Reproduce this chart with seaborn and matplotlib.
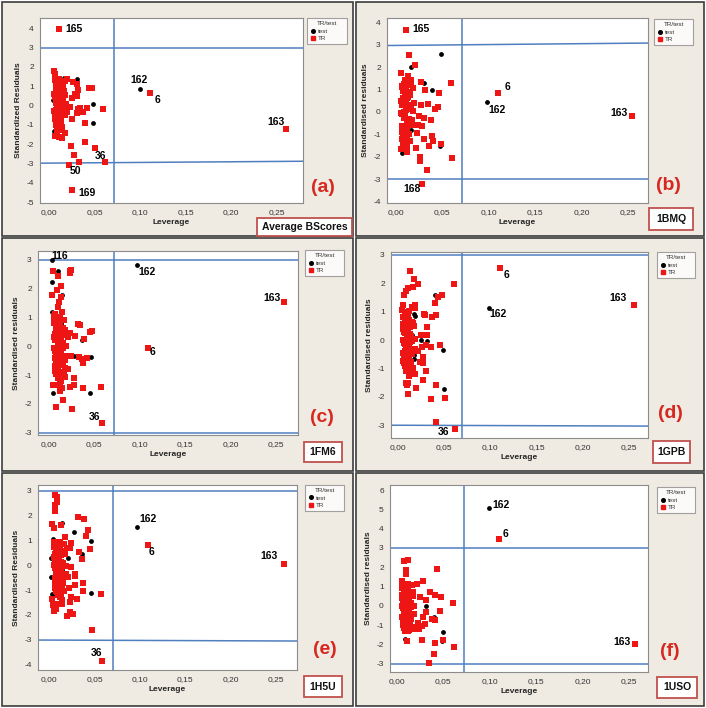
import matplotlib
matplotlib.use("Agg")
import matplotlib.pyplot as plt
import numpy as np
import pandas as pd
import seaborn as sns
from matplotlib.patches import Rectangle
from matplotlib.lines import Line2D

# ---------------- DATA ----------------
x_ticks = [0.00, 0.05, 0.10, 0.15, 0.20, 0.25]
x_tick_labels = ["0,00", "0,05", "0,10", "0,15", "0,20", "0,25"]

# leverages of the dense low-leverage group (same compounds in every model)
cluster_lev = [0.0052, 0.0061, 0.0068, 0.0075, 0.0083, 0.0090, 0.0097, 0.0104, 0.0112, 0.0120,
               0.0128, 0.0135, 0.0143, 0.0152, 0.0160, 0.0058, 0.0066, 0.0072, 0.0080, 0.0087,
               0.0094, 0.0101, 0.0108, 0.0116, 0.0124, 0.0131, 0.0139, 0.0148, 0.0171, 0.0185,
               0.0055, 0.0063, 0.0070, 0.0078, 0.0085, 0.0092, 0.0099, 0.0106, 0.0114, 0.0122,
               0.0133, 0.0145, 0.0157, 0.0168, 0.0190, 0.0060, 0.0074, 0.0088, 0.0102, 0.0118,
               0.0126, 0.0137, 0.0150, 0.0165, 0.0178, 0.0065, 0.0082, 0.0096, 0.0110, 0.0141,
               0.0057, 0.0069, 0.0077, 0.0086, 0.0093, 0.0100, 0.0107, 0.0115, 0.0123, 0.0130,
               0.0062, 0.0071, 0.0079, 0.0089, 0.0098, 0.0105, 0.0113, 0.0121, 0.0134, 0.0154]

# (a) Average BScores
a_cl_res = [1.78, 0.42, -0.55, 1.12, -1.30, 0.05, 0.88, -0.20, 1.40, -0.95,
            0.60, -1.10, 0.25, 1.00, -0.40, 1.55, -0.70, 0.15, -1.45, 0.95,
            -0.10, 0.70, -1.62, 0.35, 1.20, -0.85, 0.50, -0.25, 1.25, 0.10,
            -0.30, 1.62, -1.00, 0.80, -0.60, 0.30, 1.35, -1.25, 0.00, 0.65,
            -0.45, 1.05, -0.15, 0.55, -0.35, -1.55, 0.90, -0.80, 0.20, -0.05,
            1.15, -1.70, 0.40, 0.75, -0.50, 1.48, -0.90, 0.12, -1.20, 0.85,
            0.62, -0.32, 1.08, -0.78, 0.28, -1.15, 0.82, -0.08, 0.48, -0.62,
            1.30, -0.22, 0.18, -1.38, 0.70, -0.48, 1.02, 0.38, -0.98, 0.58]
a_tr_lev = [0.024, 0.027, 0.033, 0.0396, 0.0499, 0.059, 0.032, 0.031, 0.034, 0.042,
            0.037, 0.039, 0.025, 0.0227, 0.030, 0.0286, 0.032, 0.0257, 0.019, 0.031,
            0.044, 0.047, 0.0176, 0.025]
a_tr_res = [-2.07, -2.57, -2.93, -1.91, -2.22, -0.19, -0.16, -0.40, -0.14, -0.14,
            -0.31, -0.91, -0.67, -0.09, 0.47, 0.60, 0.81, 1.24, 1.40, 1.10,
            0.93, 0.93, -1.40, 0.40]
a_test_lev = [0.0158, 0.030, 0.0484, 0.0477, 0.005, 0.0048, 0.016, 0.0117, 0.0045, 0.0135]
a_test_res = [1.43, 1.36, 0.07, -0.88, -1.34, -0.74, 0.52, -0.88, 0.30, -0.35]
a_ids = ["165", "162", "6", "163", "36", "50", "169"]
a_id_set = ["TR", "test", "TR", "TR", "TR", "TR", "TR"]
a_id_lev = [0.0103, 0.0993, 0.111, 0.260, 0.061, 0.0216, 0.0246]
a_id_res = [3.95, 0.86, 0.67, -1.22, -2.93, -3.10, -4.36]

# (b) 1BMQ
b_cl_res = [1.75, -0.62, 0.33, -1.12, 1.25, 0.58, -0.25, 1.02, -0.85, 0.12,
            1.40, -0.45, 0.80, -1.30, 0.22, -0.05, 1.15, -0.70, 0.45, -1.50,
            0.95, -0.15, 0.65, -1.05, 1.60, 0.30, -0.55, 0.85, -0.35, 0.05,
            -1.65, 1.10, -0.95, 0.50, -0.20, 1.30, 0.70, -0.80, 0.18, -1.40,
            0.90, -0.30, 1.20, -0.60, 0.40, -1.20, 0.62, 0.00, 1.45, -0.75,
            0.28, -1.00, 0.75, -0.40, 1.05, -0.10, 0.55, -1.35, 0.35, 1.25,
            0.48, -0.88, 1.08, -0.28, 0.78, -1.18, 0.08, 0.62, -0.52, 1.38,
            -0.08, 0.92, -1.45, 0.38, -0.68, 1.18, 0.22, -0.98, 0.68, -0.35]
b_tr_lev = [0.0143, 0.021, 0.016, 0.027, 0.031, 0.0466, 0.059, 0.0265, 0.034, 0.0448,
            0.042, 0.0244, 0.030, 0.038, 0.0236, 0.028, 0.0226, 0.030, 0.039, 0.040,
            0.049, 0.0358, 0.022, 0.0254, 0.0254, 0.0333, 0.060, 0.012, 0.0118]
b_tr_res = [2.54, 2.09, 1.44, 1.36, 0.96, 0.84, 1.30, 0.30, 0.36, 0.21,
            0.12, -0.17, -0.28, -0.35, -0.58, -0.62, -0.92, -1.20, -1.07, -1.32,
            -1.42, -1.51, -1.60, -2.02, -2.21, -2.59, -2.08, -1.54, -1.77]
b_test_lev = [0.0487, 0.0158, 0.0304, 0.0387, 0.0476, 0.0064, 0.0165, 0.012, 0.0057, 0.0118]
b_test_res = [2.61, 1.99, 1.29, 0.97, -1.51, -1.84, -0.80, 0.87, -0.80, -1.36]
b_ids = ["165", "6", "163", "168", "162"]
b_id_set = ["TR", "TR", "TR", "TR", "test"]
b_id_lev = [0.011, 0.1096, 0.254, 0.028, 0.0978]
b_id_res = [3.67, 0.86, -0.16, -3.21, 0.45]

# (c) 1FM6
c_cl_res = [0.85, -0.42, 0.20, -0.95, 0.60, -0.15, 0.35, -0.70, 0.75, -0.30,
            0.10, -1.20, 0.50, -0.55, 0.92, -0.05, -0.85, 0.30, -0.48, 0.68,
            -1.10, 0.15, -0.25, 0.80, -0.62, 0.40, -0.90, 0.05, 0.55, -0.35,
            1.05, -0.75, 0.25, -0.20, 0.70, -1.35, 0.45, -0.10, 0.88, -0.58,
            0.18, -1.45, 0.62, -0.40, 0.00, 0.82, -0.80, 0.38, -0.28, -1.55,
            0.72, -0.65, 0.12, -1.00, 0.48, -0.18, 0.95, -0.50, 0.28, -0.88,
            0.32, -0.68, 0.58, -0.22, 0.78, -1.02, 0.08, -0.45, 0.95, -0.12,
            0.42, -0.82, 0.22, -0.58, 0.65, -0.32, 0.02, -1.25, 0.52, -0.05]
c_tr_lev = [0.0044, 0.0096, 0.0228, 0.0246, 0.0228, 0.0129, 0.0085, 0.0033, 0.0136, 0.011,
            0.0099, 0.0147, 0.007, 0.0118, 0.032, 0.0338, 0.0449, 0.0478, 0.0382, 0.0235,
            0.0287, 0.021, 0.0147, 0.0246, 0.0331, 0.0368, 0.042, 0.0375, 0.0173, 0.018,
            0.021, 0.0173, 0.0272, 0.0228, 0.0272, 0.0375, 0.057, 0.0154, 0.0074, 0.0257,
            0.0044]
c_tr_res = [2.60, 2.43, 2.60, 2.65, 2.54, 2.09, 1.96, 1.77, 1.71, 1.53,
            1.36, 1.19, 1.10, 1.02, 0.78, 0.75, 0.50, 0.52, 0.24, 0.47,
            0.36, 0.31, 0.40, -0.33, -0.37, -0.45, -0.40, -0.60, -0.48, -0.77,
            -0.80, -1.06, -1.12, -1.40, -1.35, -1.44, -1.41, -1.85, -2.10, -2.17,
            -1.35]
c_test_lev = [0.0103, 0.0033, 0.0143, 0.0037, 0.0129, 0.0136, 0.0368, 0.0202, 0.028, 0.0467,
              0.0456, 0.0044, 0.0129, 0.0099]
c_test_res = [2.60, 2.22, 1.79, 1.19, 0.84, 0.78, 0.21, -0.31, -0.33, -0.38,
              -1.62, -1.64, -1.44, -0.75]
c_ids = ["116", "162", "163", "6", "36"]
c_id_set = ["test", "test", "TR", "TR", "TR"]
c_id_lev = [0.0033, 0.097, 0.2585, 0.109, 0.0588]
c_id_res = [3.0, 2.8, 1.53, -0.08, -2.68]

# (d) 1GPB
d_cl_res = [1.05, -0.45, 0.30, -0.90, 0.65, -0.10, 0.40, -0.70, 0.90, -0.25,
            0.15, -1.05, 0.55, -0.50, 1.15, 0.00, -0.80, 0.35, -0.40, 0.75,
            -1.00, 0.20, -0.20, 0.85, -0.60, 0.45, -0.95, 0.08, 0.60, -0.30,
            1.25, -0.75, 0.28, -0.15, 0.70, -1.10, 0.50, -0.05, 0.95, -0.55,
            0.22, -0.85, 0.62, -0.35, 0.02, 0.80, -0.65, 0.38, -0.22, -1.08,
            0.72, -0.48, 0.12, -0.98, 0.48, -0.12, 1.00, -0.58, 0.32, -0.78,
            0.38, -0.62, 0.72, -0.18, 0.88, -0.92, 0.12, -0.42, 1.02, -0.08,
            0.55, -0.78, 0.25, -0.52, 0.68, -0.28, 0.05, -1.02, 0.58, -0.02]
d_tr_lev = [0.0417, 0.0129, 0.0176, 0.0219, 0.0607, 0.0162, 0.0118, 0.009, 0.0068, 0.0485,
            0.044, 0.0399, 0.0183, 0.019, 0.0287, 0.0298, 0.0417, 0.0377, 0.0316, 0.0251,
            0.0323, 0.046, 0.0262, 0.0309, 0.0363, 0.0226, 0.028, 0.0237, 0.028, 0.0309,
            0.028, 0.019, 0.0126, 0.0108, 0.0104, 0.0413, 0.0198, 0.0111, 0.0356, 0.051,
            0.0086]
d_tr_res = [-2.89, 2.44, 2.14, 1.96, 1.99, 1.85, 1.82, 1.73, 1.58, 1.58,
            1.52, 1.31, 1.22, 1.13, 0.92, 0.89, 0.87, 0.81, 0.46, 0.16,
            0.16, -0.16, -0.25, -0.19, -0.25, -0.37, -0.61, -0.79, -0.82, -1.08,
            -1.40, -1.18, -1.26, -1.50, -1.59, -1.58, -1.70, -1.89, -2.09, -2.03,
            -1.50]
d_test_lev = [0.0406, 0.0108, 0.0176, 0.019, 0.0248, 0.0323, 0.0496, 0.0503, 0.0176, 0.0176,
              0.0083, 0.0158]
d_test_res = [1.58, 0.78, 0.92, 0.83, 0.01, -0.05, -0.35, -1.71, -0.53, -0.67,
              -0.67, 0.16]
d_ids = ["6", "163", "36", "162"]
d_id_set = ["TR", "TR", "TR", "test"]
d_id_lev = [0.111, 0.2554, 0.0621, 0.0991]
d_id_res = [2.53, 1.25, -3.13, 1.13]

# (e) 1H5U
e_cl_res = [0.95, -0.50, 0.25, -1.05, 0.60, -0.15, 0.40, -0.80, 0.75, -0.30,
            0.10, -1.15, 0.50, -0.60, 0.85, 0.00, -0.90, 0.30, -0.45, 0.68,
            -1.20, 0.18, -0.25, 0.80, -0.70, 0.42, -1.00, 0.05, 0.55, -0.35,
            0.90, -0.85, 0.22, -0.18, 0.65, -1.10, 0.48, -0.08, 0.78, -0.62,
            0.15, -0.95, 0.58, -0.40, -0.02, 0.72, -0.75, 0.35, -0.28, -1.18,
            0.62, -0.55, 0.08, -1.02, 0.45, -0.12, 0.88, -0.65, 0.28, -0.88,
            0.35, -0.72, 0.62, -0.22, 0.82, -1.08, 0.12, -0.48, 0.92, -0.12,
            0.45, -0.85, 0.25, -0.58, 0.70, -0.32, 0.02, -1.12, 0.55, -0.05]
e_tr_lev = [0.0478, 0.0577, 0.007, 0.0088, 0.0092, 0.007, 0.0063, 0.0037, 0.0136, 0.0055,
            0.032, 0.0382, 0.043, 0.0404, 0.0173, 0.0246, 0.0449, 0.033, 0.0364, 0.0199,
            0.0228, 0.0239, 0.0283, 0.0287, 0.0191, 0.021, 0.0371, 0.0224, 0.015, 0.0375,
            0.029, 0.0246, 0.0309, 0.0118, 0.0235, 0.014, 0.014, 0.0099, 0.0044, 0.0228,
            0.0261, 0.0195, 0.0055, 0.0081, 0.0037]
e_tr_res = [-2.60, -1.16, 2.84, 2.74, 2.57, 2.43, 2.19, 1.65, 1.63, 1.49,
            1.94, 1.87, 1.43, 1.20, 1.16, 0.91, 0.64, 0.54, 0.24, 0.68,
            0.71, -0.08, -0.35, -0.43, -0.43, -0.46, -0.72, -0.93, -0.73, -1.03,
            -0.81, -1.27, -1.36, -1.27, -1.47, -1.40, -1.58, -1.56, -1.60, -1.87,
            -1.97, -2.05, -1.83, -1.78, -1.37]
e_test_lev = [0.014, 0.0279, 0.0467, 0.0364, 0.0206, 0.0044, 0.0055, 0.0026, 0.0026, 0.0147,
              0.046, 0.0033, 0.0063, 0.0081]
e_test_res = [1.69, 1.34, 0.98, 0.46, 0.30, 1.06, 0.86, 0.28, -0.46, -0.19,
              -1.12, -1.16, -1.21, -0.97]
e_ids = ["162", "6", "163", "36"]
e_id_set = ["test", "TR", "TR", "TR"]
e_id_lev = [0.0967, 0.109, 0.258, 0.0588]
e_id_res = [1.56, 0.82, 0.03, -3.88]

# (f) 1USO
f_cl_res = [1.25, -0.60, 0.30, -1.15, 0.75, -0.20, 0.45, -0.90, 1.00, -0.35,
            0.10, -1.25, 0.60, -0.70, 1.10, 0.00, -1.00, 0.35, -0.50, 0.85,
            -1.30, 0.20, -0.28, 0.95, -0.80, 0.50, -1.10, 0.05, 0.70, -0.40,
            1.30, -0.95, 0.25, -0.15, 0.80, -1.20, 0.55, -0.08, 1.05, -0.65,
            0.18, -1.05, 0.65, -0.45, -0.02, 0.90, -0.85, 0.40, -0.25, -1.28,
            0.78, -0.55, 0.12, -1.12, 0.52, -0.10, 1.15, -0.75, 0.32, -0.92,
            0.42, -0.78, 0.72, -0.25, 0.95, -1.18, 0.15, -0.52, 1.12, -0.12,
            0.58, -0.95, 0.28, -0.62, 0.82, -0.38, 0.05, -1.22, 0.62, -0.08]
f_tr_lev = [0.0082, 0.0125, 0.010, 0.010, 0.0433, 0.0287, 0.0218, 0.0358, 0.0415, 0.0476,
            0.0605, 0.0312, 0.0251, 0.0462, 0.0312, 0.0287, 0.038, 0.0408, 0.0304, 0.0269,
            0.024, 0.0272, 0.0415, 0.0498, 0.0612, 0.0398, 0.0347, 0.0107, 0.0179, 0.0233]
f_tr_res = [2.31, 2.37, 1.85, 1.67, 1.92, 1.29, 1.15, 0.74, 0.55, 0.48,
            0.12, 0.32, 0.46, -0.28, -0.32, -0.58, -0.66, -0.72, -0.92, -1.06,
            -1.22, -1.75, -1.91, -1.75, -2.13, -2.48, -2.97, -1.82, -1.18, -0.90]
f_test_lev = [0.0315, 0.0398, 0.0498, 0.0491, 0.009, 0.0082, 0.0097, 0.0079]
f_test_res = [-0.01, -0.58, -1.36, -1.82, -1.70, -0.92, 0.41, 1.07]
f_ids = ["162", "6", "163"]
f_id_set = ["test", "TR", "TR"]
f_id_lev = [0.0989, 0.1103, 0.256]
f_id_res = [5.05, 3.47, -2.00]

panel_names = ["Average BScores", "1BMQ", "1FM6", "1GPB", "1H5U", "1USO"]
panel_letters = ["(a)", "(b)", "(c)", "(d)", "(e)", "(f)"]
y_labels = ["Standardized Residuals", "Standardised residuals", "Standardised residuals",
            "Standardised residuals", "Standardised Residuals", "Standardised residuals"]
h_star = [0.0715, 0.0709, 0.0714, 0.0700, 0.0706, 0.0727]

# ---------------- BUILD TABLES ----------------
def build(cl_res, tr_lev, tr_res, te_lev, te_res, id_set, id_lev, id_res):
    parts = [
        pd.DataFrame({"Leverage": cluster_lev, "Residual": cl_res, "TR/test": "TR"}),
        pd.DataFrame({"Leverage": tr_lev, "Residual": tr_res, "TR/test": "TR"}),
        pd.DataFrame({"Leverage": te_lev, "Residual": te_res, "TR/test": "test"}),
        pd.DataFrame({"Leverage": id_lev, "Residual": id_res, "TR/test": id_set}),
    ]
    return pd.concat(parts, ignore_index=True)

tables = [
    build(a_cl_res, a_tr_lev, a_tr_res, a_test_lev, a_test_res, a_id_set, a_id_lev, a_id_res),
    build(b_cl_res, b_tr_lev, b_tr_res, b_test_lev, b_test_res, b_id_set, b_id_lev, b_id_res),
    build(c_cl_res, c_tr_lev, c_tr_res, c_test_lev, c_test_res, c_id_set, c_id_lev, c_id_res),
    build(d_cl_res, d_tr_lev, d_tr_res, d_test_lev, d_test_res, d_id_set, d_id_lev, d_id_res),
    build(e_cl_res, e_tr_lev, e_tr_res, e_test_lev, e_test_res, e_id_set, e_id_lev, e_id_res),
    build(f_cl_res, f_tr_lev, f_tr_res, f_test_lev, f_test_res, f_id_set, f_id_lev, f_id_res),
]
labels = [
    (a_ids, a_id_lev, a_id_res), (b_ids, b_id_lev, b_id_res), (c_ids, c_id_lev, c_id_res),
    (d_ids, d_id_lev, d_id_res), (e_ids, e_id_lev, e_id_res), (f_ids, f_id_lev, f_id_res),
]

# ---------------- LAYOUT (pixels, top-left origin) ----------------
W, H = 706, 708
layout = [
    dict(frame=(2, 2, 353, 236), axes=(40, 18, 303, 203), xlim=(-0.0102, 0.279), ylim=(-5.04, 4.53),
         yt=(-5, 4), letter=(323, 188), tag=(257, 218, 352, 236), leg=(307, 18, 347, 47),
         hl=((3.0, 3.0), (-2.98, -2.88)),
         off={"165": (15, 0), "162": (-1, 9), "6": (7, -7), "163": (-10, 7), "36": (-4, 6),
              "50": (7, -6), "169": (15, -3)}),
    dict(frame=(356, 2, 704, 236), axes=(387, 18, 648, 203), xlim=(-0.0097, 0.2715), ylim=(-4.07, 4.2),
         yt=(-4, 4), letter=(668, 185), tag=(649, 208, 693, 230), leg=(654, 19, 693, 48),
         hl=((2.97, 3.08), (-2.99, -2.99)),
         off={"165": (15, 1), "6": (10, 6), "162": (10, -8), "163": (-13, 3), "168": (-10, -5)}),
    dict(frame=(2, 238, 353, 471), axes=(38, 251, 298, 435), xlim=(-0.0121, 0.274), ylim=(-3.08, 3.3),
         yt=(-3, 3), letter=(322, 417), tag=(304, 442, 342, 462), leg=(305, 250, 344, 278),
         hl=((3.0, 3.0), (-3.0, -3.0)),
         off={"116": (8, 4), "162": (10, -7), "163": (-12, 4), "6": (4, -4), "36": (-8, 6)}),
    dict(frame=(356, 238, 704, 471), axes=(391, 252, 648, 438), xlim=(-0.0071, 0.2705), ylim=(-3.45, 3.1),
         yt=(-3, 3), letter=(670, 413), tag=(653, 441, 690, 463), leg=(657, 252, 695, 280),
         hl=((3.0, 3.0), (-3.0, -3.03)),
         off={"6": (6, -7), "162": (9, -6), "163": (-16, 7), "36": (-12, -3)}),
    dict(frame=(2, 473, 353, 706), axes=(38, 485, 297, 670), xlim=(-0.0121, 0.2728), ylim=(-4.23, 3.24),
         yt=(-4, 3), letter=(325, 650), tag=(304, 676, 342, 697), leg=(305, 485, 344, 513),
         hl=((3.0, 3.0), (-3.02, -3.06)),
         off={"162": (11, 8), "6": (3, -7), "163": (-15, 8), "36": (-6, 8)}),
    dict(frame=(356, 473, 704, 706), axes=(390, 485, 648, 672), xlim=(-0.0072, 0.2704), ylim=(-3.43, 6.26),
         yt=(-3, 6), letter=(670, 652), tag=(657, 677, 697, 698), leg=(657, 487, 695, 515),
         hl=((2.97, 2.97), (-3.0, -3.0)),
         off={"162": (12, 3), "6": (6, 5), "163": (-13, 2)}),
]

RED = "#ee1515"
BLUE = "#4f7fbf"
BEIGE = "#efebe2"
LETTER_RED = "#d6281f"
TAG_EDGE = "#c0504d"

sns.set_style("white")
plt.rcParams["font.family"] = ["Liberation Sans", "DejaVu Sans"]
plt.rcParams["axes.unicode_minus"] = False

fig = plt.figure(figsize=(W / 100, H / 100), dpi=100)
fig.patch.set_facecolor("white")


def px_rect(x0, y0, x1, y1):
    return [x0 / W, 1 - y1 / H, (x1 - x0) / W, (y1 - y0) / H]


for i, (spec, df) in enumerate(zip(layout, tables)):
    fx, fy, fw, fh = px_rect(*spec["frame"])
    fig.add_artist(Rectangle((fx, fy), fw, fh, transform=fig.transFigure, facecolor=BEIGE,
                             edgecolor="#3c3c3c", linewidth=1.2, zorder=-10))

    ax = fig.add_axes(px_rect(*spec["axes"]))
    ax.set_facecolor("white")

    sns.scatterplot(data=df[df["TR/test"] == "test"], x="Leverage", y="Residual", marker="o",
                    color="black", s=12, linewidth=0, ax=ax, legend=False, zorder=3)
    sns.scatterplot(data=df[df["TR/test"] == "TR"], x="Leverage", y="Residual", marker="s",
                    color=RED, s=16, linewidth=0, ax=ax, legend=False, zorder=4)

    # warning limits
    for yl, yr in spec["hl"]:
        ax.plot([0, 1], [yl, yr], transform=ax.get_yaxis_transform(), color=BLUE, lw=1.1, zorder=2)
    ax.axvline(h_star[i], color=BLUE, lw=1.1, zorder=2)

    ax.set_xlim(*spec["xlim"])
    ax.set_ylim(*spec["ylim"])
    ax.set_xticks(x_ticks)
    ax.set_xticklabels(x_tick_labels)
    lo, hi = spec["yt"]
    ax.set_yticks(list(range(lo, hi + 1)))
    ax.set_xlabel("Leverage", fontsize=6, fontweight="bold", labelpad=2)
    ax.set_ylabel(y_labels[i], fontsize=6, fontweight="bold", labelpad=3)
    ax.tick_params(axis="both", direction="out", length=3, width=0.7, color="#707070",
                   labelsize=6, labelcolor="#333333", pad=1.5)
    for sp in ax.spines.values():
        sp.set_color("#8c8c8c")
        sp.set_linewidth(0.8)

    ids, ilev, ires = labels[i]
    for lab, lx, ly in zip(ids, ilev, ires):
        ax.annotate(lab, (lx, ly), xytext=spec["off"][lab], textcoords="offset pixels",
                    ha="center", va="center", fontsize=7.5, fontweight="bold", color="black",
                    zorder=6)

    # legend
    lx0, ly0, lw_, lh_ = px_rect(*spec["leg"])
    handles = [Line2D([], [], marker="o", ls="", color="black", markersize=2.6),
               Line2D([], [], marker="s", ls="", color=RED, markersize=3.0)]
    leg = ax.legend(handles, ["test", "TR"], title="TR/test", loc="upper left",
                    bbox_to_anchor=(lx0, ly0 + lh_, lw_, 0), bbox_transform=fig.transFigure,
                    mode="expand", fontsize=4.5, title_fontsize=4.5, frameon=True,
                    fancybox=False, edgecolor="#8c8c8c", borderpad=0.5, labelspacing=0.35,
                    handlelength=0.8, handletextpad=0.5, borderaxespad=0)
    leg.get_frame().set_linewidth(0.8)
    leg.get_title().set_color("#333333")
    for t in leg.get_texts():
        t.set_color("#333333")

    # panel letter
    x, y = spec["letter"]
    fig.text(x / W, 1 - y / H, panel_letters[i], color=LETTER_RED, fontsize=14,
             fontweight="bold", ha="center", va="center")

    # tag box
    tx0, ty0, tw, th = px_rect(*spec["tag"])
    fig.add_artist(Rectangle((tx0, ty0), tw, th, transform=fig.transFigure, facecolor="white",
                             edgecolor=TAG_EDGE, linewidth=1.3, zorder=5))
    fig.text(tx0 + tw / 2, ty0 + th / 2, panel_names[i], fontsize=7.5, fontweight="bold",
             ha="center", va="center", color="#111111", zorder=6)

fig.savefig("out.png", dpi=100, facecolor=fig.get_facecolor())
